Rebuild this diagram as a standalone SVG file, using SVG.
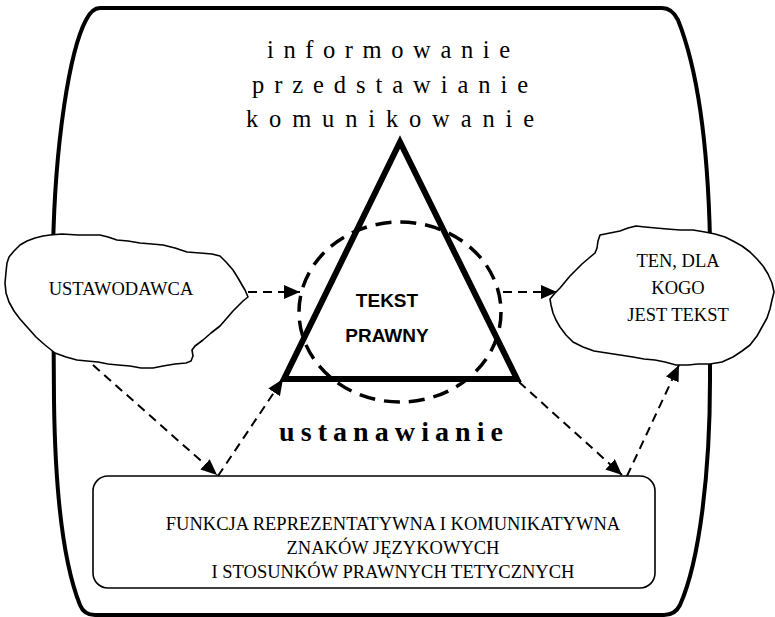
<svg xmlns="http://www.w3.org/2000/svg" width="775" height="617" viewBox="0 0 775 617">
  <style>
    .frame { fill: none; stroke: #000; stroke-width: 4; }
    .cloud { fill: #fff; stroke: #000; stroke-width: 1.6; stroke-linejoin: round; }
    .box { fill: #fff; stroke: #000; stroke-width: 1.6; }
    .tri { fill: none; stroke: #000; stroke-width: 6; stroke-linejoin: miter; }
    .ring { fill: none; stroke: #000; stroke-width: 3.5; stroke-dasharray: 16 9; }
    .link { fill: none; stroke: #000; stroke-width: 2; stroke-dasharray: 9 6; }
    .serif { font-family: "Liberation Serif", "Times New Roman", serif; fill: #000; }
    .sans { font-family: "Liberation Sans", Arial, sans-serif; font-weight: bold; fill: #000; }
  </style>
  <defs>
    <marker id="head" markerWidth="17" markerHeight="14" refX="16" refY="7" orient="auto" markerUnits="userSpaceOnUse">
      <path d="M0,0 L16,7 L0,14 Z" fill="#000"/>
    </marker>
  </defs>

  <!-- outer frame -->
  <g id="frame">
    <path class="frame" d="M 100,8 L 662,8 Q 672,8 678,20 C 698,70 708,150 710,240 L 710,380 C 710,470 700,560 680,605 Q 675,615 664,615 L 95,615 Q 84,615 80,605 C 62,560 55,480 54,400 L 53,250 C 55,140 70,50 86,20 Q 92,8 100,8 Z"/>
  </g>

  <!-- top labels -->
  <g id="labels-top" class="serif" font-size="24.5">
    <text x="267" y="58" textLength="243" lengthAdjust="spacing">informowanie</text>
    <text x="252" y="93" textLength="276" lengthAdjust="spacing">przedstawianie</text>
    <text x="246" y="127" textLength="288" lengthAdjust="spacing">komunikowanie</text>
  </g>

  <!-- central triangle with dashed ring -->
  <g id="tekst-prawny">
    <polygon class="tri" points="400,142 284,379 517,379"/>
    <ellipse class="ring" cx="400" cy="312" rx="101" ry="90"/>
    <text class="sans" font-size="19" x="387" y="307" text-anchor="middle">TEKST</text>
    <text class="sans" font-size="19" x="387" y="342" text-anchor="middle">PRAWNY</text>
  </g>

  <g id="label-ustanawianie">
    <text class="serif" font-size="28" font-weight="bold" x="279" y="441" textLength="224" lengthAdjust="spacing">ustanawianie</text>
  </g>

  <!-- connectors -->
  <g id="connectors">
    <line class="link" x1="248" y1="292" x2="300" y2="292" marker-end="url(#head)"/>
    <line class="link" x1="503" y1="292" x2="557" y2="292" marker-end="url(#head)"/>
    <line class="link" x1="93" y1="365" x2="217" y2="475" marker-end="url(#head)"/>
    <line class="link" x1="218" y1="476" x2="283" y2="379" marker-end="url(#head)"/>
    <line class="link" x1="519" y1="382" x2="622" y2="475" marker-end="url(#head)"/>
    <line class="link" x1="627" y1="476" x2="679" y2="365" marker-end="url(#head)"/>
  </g>

  <!-- left cloud -->
  <g id="ustawodawca">
    <path class="cloud" d="M 50,235 L 62,234 L 78,235 L 100,235 L 108,237 L 117,240 L 128,241 L 140,243 L 152,244 L 163,245 L 175,248 L 187,252 L 200,253 L 212,254 L 220,256 L 226,262 L 233,270 L 238,278 L 242,285 L 245,290 L 248,297 L 243,301 L 238,306 L 233,311 L 227,318 L 220,326 L 211,333 L 203,340 L 195,346 L 192,350 L 193,356 L 191,361 L 186,363 L 175,364 L 163,366 L 153,368 L 141,368 L 130,366 L 118,365 L 108,364 L 98,362 L 87,361 L 77,360 L 66,357 L 55,353 L 45,345 L 36,337 L 28,328 L 20,319 L 14,311 L 9,302 L 6,293 L 5,283 L 6,272 L 7,263 L 9,257 L 14,251 L 20,245 L 27,241 L 35,238 L 43,236 Z"/>
    <text class="serif" font-size="18.5" x="121" y="295" text-anchor="middle">USTAWODAWCA</text>
  </g>

  <!-- right cloud -->
  <g id="adresat">
    <path class="cloud" d="M 600,235 L 610,233 L 620,231 L 628,228 L 636,226 L 645,227 L 656,228 L 667,229 L 680,230 L 693,230 L 705,232 L 715,234 L 725,237 L 733,241 L 742,246 L 750,252 L 757,259 L 763,266 L 768,274 L 772,283 L 774,292 L 772,300 L 770,309 L 767,318 L 762,327 L 757,336 L 750,345 L 742,351 L 733,357 L 722,362 L 710,364 L 698,364 L 688,365 L 676,365 L 665,362 L 655,360 L 644,359 L 633,357 L 620,355 L 607,353 L 594,351 L 583,347 L 573,342 L 566,335 L 560,327 L 556,320 L 553,313 L 551,305 L 550,299 L 555,293 L 560,288 L 565,282 L 570,276 L 576,270 L 582,264 L 589,258 L 595,253 L 597,248 L 598,241 Z"/>
    <text class="serif" font-size="18.5" x="678" y="267" text-anchor="middle">TEN, DLA</text>
    <text class="serif" font-size="18.5" x="678" y="294" text-anchor="middle">KOGO</text>
    <text class="serif" font-size="18.5" x="678" y="321" text-anchor="middle">JEST TEKST</text>
  </g>

  <!-- bottom box -->
  <g id="funkcja">
    <rect class="box" x="93" y="476" width="562" height="112" rx="15" ry="15"/>
    <text class="serif" font-size="18.5" x="393" y="530" text-anchor="middle">FUNKCJA REPREZENTATYWNA I KOMUNIKATYWNA</text>
    <text class="serif" font-size="18.5" x="393" y="554" text-anchor="middle">ZNAKÓW JĘZYKOWYCH</text>
    <text class="serif" font-size="18.5" x="393" y="578" text-anchor="middle">I STOSUNKÓW PRAWNYCH TETYCZNYCH</text>
  </g>
</svg>
